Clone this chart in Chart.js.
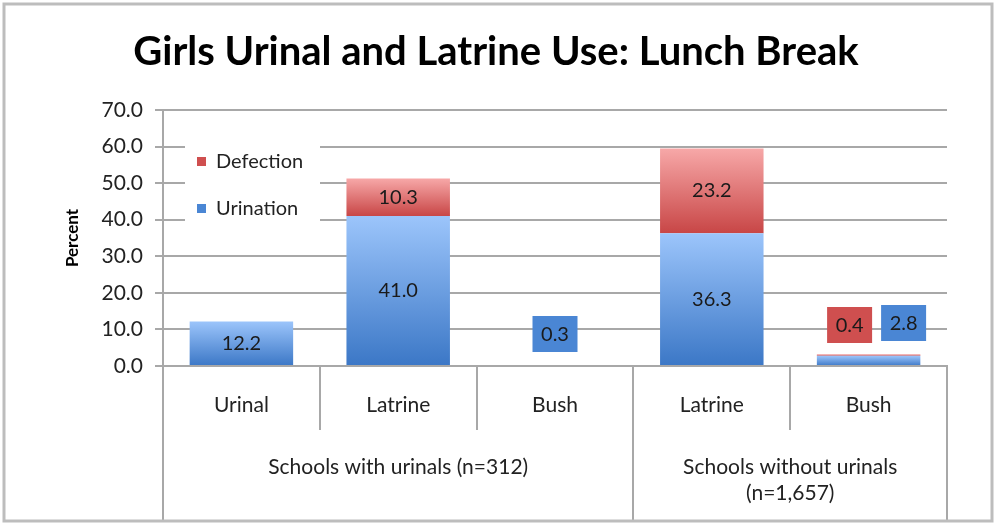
<!DOCTYPE html>
<html>
<head>
<meta charset="utf-8">
<script src="https://cdn.jsdelivr.net/npm/chart.js@4/dist/chart.umd.min.js"></script>
<style>
  html, body { margin: 0; padding: 0; background: #fff; }
  #wrap { width: 995px; height: 525px; }
</style>
</head>
<body>
<div id="wrap"><canvas id="myChart" width="995" height="525"></canvas></div>
<script>
var categories = ['Urinal', 'Latrine', 'Bush', 'Latrine', 'Bush'];
var groups = [
  { label: ['Schools with urinals (n=312)'], from: 0, to: 2 },
  { label: ['Schools without urinals', '(n=1,657)'], from: 3, to: 4 }
];
var urination = [12.2, 41.0, 0.3, 36.3, 2.8];
var defection = [null, 10.3, null, 23.2, 0.4];
var yTicks = [0, 10, 20, 30, 40, 50, 60, 70];

var FONT = 'Lato, "Open Sans", sans-serif';

function barGradient(ctx, light, dark) {
  var chart = ctx.chart;
  if (!chart.chartArea) return dark;
  var y = chart.scales.y;
  var ds = chart.data.datasets;
  var i = ctx.dataIndex;
  var base = 0;
  for (var d = 0; d < ctx.datasetIndex; d++) base += ds[d].data[i] || 0;
  var v = ds[ctx.datasetIndex].data[i] || 0;
  var top = y.getPixelForValue(base + v);
  var bot = y.getPixelForValue(base);
  if (bot - top < 1) bot = top + 1;
  var g = chart.ctx.createLinearGradient(0, top, 0, bot);
  g.addColorStop(0, light);
  g.addColorStop(1, dark);
  return g;
}

// labels inside bars, or in small boxes for tiny bars
var labelsPlugin = {
  id: 'labels',
  afterDatasetsDraw: function (chart) {
    var c = chart.ctx;
    var zero = chart.scales.y.getPixelForValue(0);
    c.save();
    c.font = '20px ' + FONT;
    c.textAlign = 'center';
    c.textBaseline = 'middle';
    chart.data.datasets.forEach(function (ds, di) {
      var meta = chart.getDatasetMeta(di);
      meta.data.forEach(function (bar, i) {
        var v = ds.data[i];
        if (v === null || v === undefined) return;
        var txt = v.toFixed(1);
        var h = Math.abs(bar.base - bar.y);
        if (h > 26) {
          c.fillStyle = '#1a1a1a';
          c.fillText(txt, bar.x, (bar.y + bar.base) / 2);
          return;
        }
        // small bar: boxed label above it
        var bx = bar.x, by = zero - 32;
        if (i === 4) { bx = bar.x + (di === 0 ? 35 : -19); by = zero - (di === 0 ? 43 : 41); }
        var w = 45, bh = 36;
        c.fillStyle = ds.boxColor;
        c.fillRect(bx - w / 2, by - bh / 2, w, bh);
        c.fillStyle = '#1a1a1a';
        c.fillText(txt, bx, by + 1);
      });
    });
    c.restore();
  }
};

// legend box inside plot, axis table below, outer frame, title
var decorPlugin = {
  id: 'decor',
  beforeDatasetsDraw: function (chart) {
    var c = chart.ctx, a = chart.chartArea;
    c.save();
    var lx = a.left + 22, ly = a.top + 16;
    c.fillStyle = '#fff';
    c.fillRect(lx, ly, 135, 104);
    c.font = '20px ' + FONT;
    c.textBaseline = 'middle';
    c.textAlign = 'left';
    var items = chart.data.datasets.slice().reverse();
    items.forEach(function (ds, k) {
      var yy = ly + 36 + k * 47;
      c.fillStyle = ds.boxColor;
      c.fillRect(lx + 12, yy - 5, 9, 9);
      c.fillStyle = '#222';
      c.fillText(ds.label, lx + 31, yy);
    });
    c.restore();
  },
  afterDraw: function (chart) {
    var c = chart.ctx, a = chart.chartArea, x = chart.scales.x;
    var half = (x.getPixelForValue(1) - x.getPixelForValue(0)) / 2;
    c.save();
    c.strokeStyle = '#a8a8a8';
    c.lineWidth = 2;
    var bottom = 521;
    for (var i = 0; i <= categories.length; i++) {
      var px = i < categories.length ? x.getPixelForValue(i) - half : x.getPixelForValue(i - 1) + half;
      var isEdge = groups.some(function (g) { return g.from === i; }) || i === categories.length;
      c.beginPath();
      c.moveTo(Math.round(px), a.bottom);
      c.lineTo(Math.round(px), isEdge ? bottom : a.bottom + 64);
      c.stroke();
    }
    c.font = '21px ' + FONT;
    c.fillStyle = '#222';
    c.textAlign = 'center';
    c.textBaseline = 'middle';
    groups.forEach(function (g) {
      var cx = (x.getPixelForValue(g.from) + x.getPixelForValue(g.to)) / 2;
      g.label.forEach(function (line, k) {
        c.fillText(line, cx, a.bottom + 101 + k * 26);
      });
    });
    // outer frame
    c.strokeStyle = '#bdbdbd';
    c.lineWidth = 3;
    c.strokeRect(4, 4, 988, 517);
    // title
    c.font = 'bold 40px ' + FONT;
    c.fillStyle = '#000';
    c.fillText('Girls Urinal and Latrine Use: Lunch Break', 496, 52);
    c.restore();
  }
};

var ctx = document.getElementById('myChart').getContext('2d');
var myChart = new Chart(ctx, {
  type: 'bar',
  data: {
    labels: categories,
    datasets: [{
      label: 'Urination',
      data: urination,
      boxColor: '#4a86d4',
      backgroundColor: function (ctx) { return barGradient(ctx, '#9cc5fb', '#3b77c6'); }
    }, {
      label: 'Defection',
      data: defection,
      boxColor: '#cf4f4f',
      backgroundColor: function (ctx) { return barGradient(ctx, '#f7a8a8', '#c84646'); }
    }]
  },
  plugins: [decorPlugin, labelsPlugin],
  options: {
    responsive: false,
    animation: false,
    layout: { padding: { left: 56, right: 48, top: 110, bottom: 0 } },
    datasets: { bar: { categoryPercentage: 1, barPercentage: 0.66, borderWidth: 0 } },
    plugins: {
      legend: { display: false },
      title: { display: false },
      tooltip: { enabled: false }
    },
    scales: {
      x: {
        stacked: true,
        afterFit: function (s) { s.height = 159; },
        grid: { display: false, drawTicks: false },
        border: { display: true, color: '#a8a8a8', width: 2 },
        ticks: { color: '#222', font: { family: FONT, size: 21 }, padding: 27, maxRotation: 0 }
      },
      y: {
        stacked: true,
        min: 0,
        max: 70,
        afterFit: function (s) { s.width = 107; },
        afterBuildTicks: function (s) { s.ticks = yTicks.map(function (v) { return { value: v }; }); },
        grid: { color: '#a8a8a8', lineWidth: 2, tickLength: 8 },
        border: { display: true, color: '#a8a8a8', width: 2 },
        title: { display: true, text: 'Percent', color: '#000', font: { family: FONT, size: 17, weight: 'bold' }, padding: { top: 6, bottom: 0 } },
        ticks: {
          color: '#222',
          font: { family: FONT, size: 21 },
          padding: 12,
          callback: function (v) { return Number(v).toFixed(1); }
        }
      }
    }
  }
});
</script>
</body>
</html>
